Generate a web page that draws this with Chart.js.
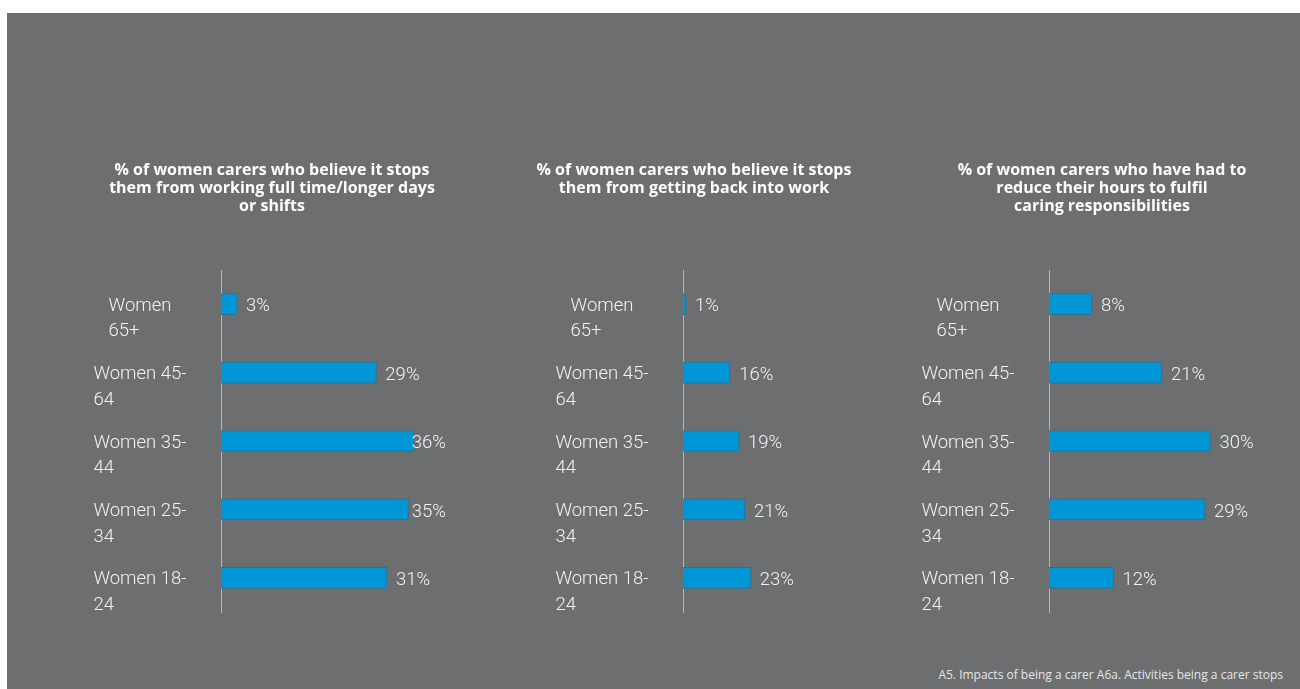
<!DOCTYPE html>
<html>
<head>
<meta charset="utf-8">
<script src="https://cdn.jsdelivr.net/npm/chart.js@4.4.1/dist/chart.umd.min.js"></script>
<style>
  html, body { margin: 0; padding: 0; background: #ffffff; }
  body { width: 1300px; height: 689px; position: relative; overflow: hidden; }
  #board { position: absolute; left: 7px; top: 13px; right: 0; bottom: 0; background: #6d6e70; }
  canvas { position: absolute; }
  #note {
    position: absolute; right: 17px; top: 666px;
    font-family: "Open Sans", sans-serif; font-size: 12px; color: #e6e6e6;
    white-space: nowrap;
  }
</style>
</head>
<body>
<div id="board"></div>
<canvas id="c1" width="380" height="480" style="left:82px;top:140px"></canvas>
<canvas id="c2" width="364" height="480" style="left:512px;top:140px"></canvas>
<canvas id="c3" width="378" height="480" style="left:913px;top:140px"></canvas>
<div id="note">A5. Impacts of being a carer A6a. Activities being a carer stops</div>
<script>
// Age groups, top to bottom; each entry is the two lines of its row label
const categories = [
  ['Women', '65+'],
  ['Women 45-', '64'],
  ['Women 35-', '44'],
  ['Women 25-', '34'],
  ['Women 18-', '24']
];

// Share of women carers (%) per age group
const fullTimeValues = [3, 29, 36, 35, 31];
const backToWorkValues = [1, 16, 19, 21, 23];
const reducedHoursValues = [8, 21, 30, 29, 12];

const fullTimeTitle = [
  '% of women carers who believe it stops',
  'them from working full time/longer days',
  'or shifts'
];
const backToWorkTitle = [
  '% of women carers who believe it stops',
  'them from getting back into work'
];
const reducedHoursTitle = [
  '% of women carers who have had to',
  'reduce their hours to fulfil',
  'caring responsibilities'
];

const axisMax = [42, 60, 42];
const yAxisWidths = [123, 155, 120];

const LABEL_FONT = '300 18.5px Roboto, "Liberation Sans", sans-serif';
const TEXT_COLOR = '#f2f2f2';

// Row labels: a block centred left of the axis, lines left-aligned,
// first line level with the bar
const rowLabels = {
  id: 'rowLabels',
  afterDraw(chart) {
    const ctx = chart.ctx;
    const y = chart.scales.y;
    ctx.save();
    ctx.font = LABEL_FONT;
    ctx.fillStyle = TEXT_COLOR;
    ctx.textAlign = 'left';
    ctx.textBaseline = 'middle';
    chart.data.labels.forEach((lines, i) => {
      const py = y.getPixelForValue(i) + 2;
      const widest = Math.max(...lines.map(l => ctx.measureText(l).width));
      const x = y.right - 81 - widest / 2;
      lines.forEach((line, k) => ctx.fillText(line, x, py + k * 25.5));
    });
    ctx.restore();
  }
};

// Value labels after each bar, kept inside the plot area
const valueLabels = {
  id: 'valueLabels',
  afterDatasetsDraw(chart) {
    const ctx = chart.ctx;
    const meta = chart.getDatasetMeta(0);
    const values = chart.data.datasets[0].data;
    ctx.save();
    ctx.font = LABEL_FONT;
    ctx.fillStyle = TEXT_COLOR;
    ctx.textAlign = 'left';
    ctx.textBaseline = 'middle';
    meta.data.forEach((bar, i) => {
      const text = values[i] + '%';
      const w = ctx.measureText(text).width;
      let x = bar.x + 9;
      if (x + w > chart.chartArea.right) x = chart.chartArea.right - w;
      ctx.fillText(text, x, bar.y + 2.5);
    });
    ctx.restore();
  }
};

function makeChart(id, values, title, idx) {
  const titleLines = title.length;
  new Chart(document.getElementById(id), {
    type: 'bar',
    data: {
      labels: categories,
      datasets: [{
        data: values,
        backgroundColor: '#0197d6',
        borderColor: '#2f6e8c',
        borderWidth: 1,
        borderSkipped: 'left',
        barThickness: 21
      }]
    },
    options: {
      indexAxis: 'y',
      responsive: false,
      animation: false,
      layout: { padding: { left: 16, right: 16, top: 0, bottom: 8 } },
      scales: {
        x: {
          display: false,
          min: 0,
          max: axisMax[idx]
        },
        y: {
          grid: { display: false, drawTicks: false },
          border: { display: true, color: '#b4b5b7', width: 1 },
          ticks: { display: false },
          afterFit(scale) { scale.width = yAxisWidths[idx]; }
        }
      },
      plugins: {
        legend: { display: false },
        tooltip: { enabled: false },
        title: {
          display: true,
          text: title,
          color: '#ffffff',
          font: { family: '"Open Sans", sans-serif', weight: '700', size: 16, lineHeight: '18px' },
          padding: { top: 21, bottom: 55 + (3 - titleLines) * 18 }
        }
      }
    },
    plugins: [rowLabels, valueLabels]
  });
}

makeChart('c1', fullTimeValues, fullTimeTitle, 0);
makeChart('c2', backToWorkValues, backToWorkTitle, 1);
makeChart('c3', reducedHoursValues, reducedHoursTitle, 2);
</script>
</body>
</html>
